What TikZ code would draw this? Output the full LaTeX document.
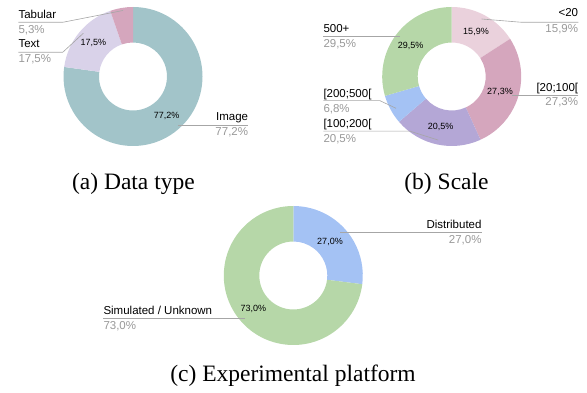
\documentclass[tikz,border=0pt]{standalone}
\usepackage{fontspec}
\setmainfont{Liberation Sans}
\newfontfamily\capfont{Liberation Serif}
\usetikzlibrary{calc}
\definecolor{cteal}{HTML}{A2C4C9}
\definecolor{clav}{HTML}{D9D2E9}
\definecolor{cmag}{HTML}{D5A6BD}
\definecolor{cpink}{HTML}{EAD1DC}
\definecolor{cpurp}{HTML}{B4A7D6}
\definecolor{cblue}{HTML}{A4C2F4}
\definecolor{cgreen}{HTML}{B6D7A8}
\definecolor{cgrey}{HTML}{999999}
\definecolor{cline}{HTML}{A6A6A6}
\newcommand\dslice[4]{% center, start, end, colour
  \fill[#4] ([shift={(#2:69.5pt)}]#1) arc[start angle=#2, end angle=#3, radius=69.5pt]
    -- ([shift={(#3:34pt)}]#1) arc[start angle=#3, end angle=#2, radius=34pt] -- cycle;}
\tikzset{
  lname/.style={inner sep=0pt, font=\fontsize{11.5}{13}\selectfont, text=black},
  lval/.style={inner sep=0pt, font=\fontsize{11.5}{13}\selectfont, text=cgrey},
  inlab/.style={inner sep=0pt, font=\fontsize{9}{10}\selectfont, text=black},
  leader/.style={draw=cline, line width=0.6pt},
  captext/.style={inner sep=0pt, anchor=base, font=\capfont\fontsize{23.5}{26}\selectfont}
}
\begin{document}
\begin{tikzpicture}[x=1pt,y=1pt]
\useasboundingbox (0,0) rectangle (587,-393);
% ---------- (a) ----------
\coordinate (ca) at (133,-76.5);
\dslice{ca}{90}{-187.9}{cteal}
\dslice{ca}{172.1}{109.1}{clav}
\dslice{ca}{109.1}{90}{cmag}
\node[inlab] (a1) at (93.3,-43.3) {17,5\%};
\node[inlab] (a2) at (166.7,-115.7) {77,2\%};
\node[lname, anchor=base west] (tabL) at (18.3,-19) {Tabular};
\node[lval, anchor=base west] (tabV) at (18.3,-33.3) {5,3\%};
\node[lname, anchor=base west] (txtL) at (18.3,-47.7) {Text};
\node[lval, anchor=base west] (txtV) at (18.3,-62.5) {17,5\%};
\node[lname, anchor=base east] (imgL) at (248.3,-120.7) {Image};
\node[lval, anchor=base east] (imgV) at (248.3,-136) {77,2\%};
\coordinate (tabP) at (123,-10.5); \coordinate (tabB) at (62.7,-22.3);
\coordinate (txtP) at (83.3,-33.3); \coordinate (txtB) at (62.7,-52.3);
\coordinate (imgP) at (178,-125);
\draw[leader] (tabP) -- (tabB) -- (tabB -| tabL.west);
\draw[leader] (txtP) -- (txtB) -- (txtB -| txtL.west);
\draw[leader] (imgP) -- (imgP -| imgL.east);
\node[captext] (capa) at (133.4,-190) {(a) Data type};
% ---------- (b) ----------
\coordinate (cb) at (451.7,-76.5);
\dslice{cb}{90}{32.8}{cpink}
\dslice{cb}{32.8}{-65.5}{cmag}
\dslice{cb}{-65.5}{-139.3}{cpurp}
\dslice{cb}{-139.3}{-163.8}{cblue}
\dslice{cb}{-163.8}{-270}{cgreen}
\node[inlab] (b1) at (476,-32.3) {15,9\%};
\node[inlab] (b2) at (500,-92.3) {27,3\%};
\node[inlab] (b3) at (440.7,-127.3) {20,5\%};
\node[inlab] (b5) at (410.7,-46) {29,5\%};
\node[lname, anchor=base east] (ltL) at (578.3,-16.7) {<20};
\node[lval, anchor=base east] (ltV) at (578.3,-32.5) {15,9\%};
\node[lname, anchor=base east] (m20L) at (578.3,-91.3) {[20;100[};
\node[lval, anchor=base east] (m20V) at (578.3,-106) {27,3\%};
\node[lname, anchor=base west] (p5L) at (323.3,-32.3) {500+};
\node[lval, anchor=base west] (p5V) at (323.3,-47.5) {29,5\%};
\node[lname, anchor=base west] (m200L) at (323.3,-97.3) {[200;500[};
\node[lval, anchor=base west] (m200V) at (323.3,-112.3) {6,8\%};
\node[lname, anchor=base west] (m100L) at (323.3,-127.7) {[100;200[};
\node[lval, anchor=base west] (m100V) at (323.3,-142.5) {20,5\%};
\coordinate (ltP) at (481.7,-19); \coordinate (ltB) at (521.7,-22.3);
\coordinate (m20P) at (511.7,-95);
\coordinate (p5P) at (400,-36.7);
\coordinate (m200P) at (396,-108.3); \coordinate (m200B) at (380,-100.7);
\coordinate (m100P) at (438,-140); \coordinate (m100B) at (410,-131.2);
\draw[leader] (ltP) -- (ltB) -- (ltB -| ltL.east);
\draw[leader] (m20P) -- (m20P -| m20L.east);
\draw[leader] (p5P) -- (p5P -| p5L.west);
\draw[leader] (m200P) -- (m200B) -- (m200B -| m200L.west);
\draw[leader] (m100P) -- (m100B) -- (m100B -| m100L.west);
\node[captext] (capb) at (446.5,-190) {(b) Scale};
% ---------- (c) ----------
\coordinate (cc) at (293.3,-275.5);
\dslice{cc}{90}{-7.2}{cblue}
\dslice{cc}{-7.2}{-270}{cgreen}
\node[inlab] (c1) at (330,-242.3) {27,0\%};
\node[inlab] (c2) at (253.3,-309) {73,0\%};
\node[lname, anchor=base east] (disL) at (481.7,-228.5) {Distributed};
\node[lval, anchor=base east] (disV) at (481.7,-243.5) {27,0\%};
\node[lname, anchor=base west] (simL) at (103.3,-314.3) {Simulated / Unknown};
\node[lval, anchor=base west] (simV) at (103.3,-329.3) {73,0\%};
\coordinate (disP) at (340,-232.7);
\coordinate (simP) at (245,-318.3);
\draw[leader] (disP) -- (disP -| disL.east);
\draw[leader] (simP) -- (simP -| simL.west);
\node[captext] (capc) at (293,-381.7) {(c) Experimental platform};
\end{tikzpicture}
\end{document}
